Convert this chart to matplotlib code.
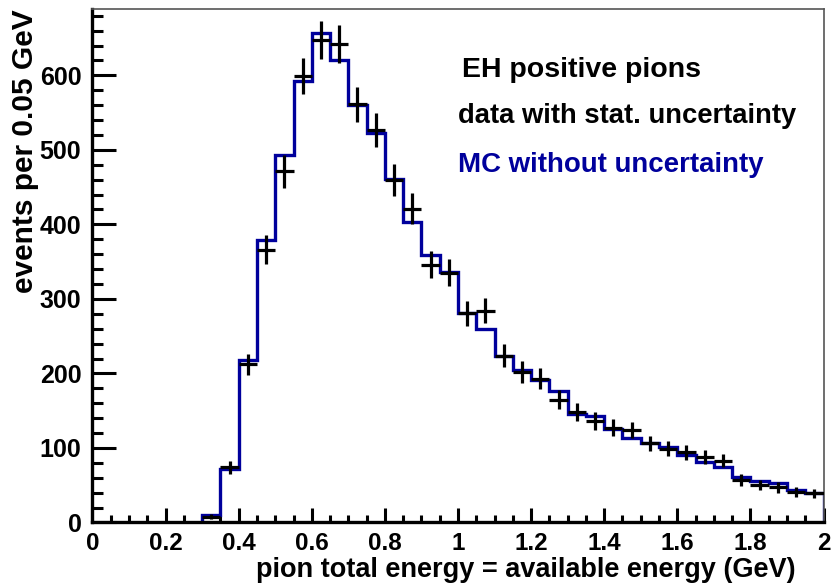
import numpy as np
import matplotlib
matplotlib.use("Agg")
import matplotlib.pyplot as plt
from matplotlib.ticker import MultipleLocator

plt.rcParams['font.family'] = ['Liberation Sans', 'DejaVu Sans']
plt.rcParams['font.weight'] = 'bold'

# bins of 0.05 GeV from 0.30 to 2.00
bin_edges = np.round(np.arange(0.30, 2.0001, 0.05), 3)
bin_centers = (bin_edges[:-1] + bin_edges[1:]) / 2

# data (events per bin)
data_counts = [8, 74, 212, 366, 471, 599, 648, 642, 561, 527,
               459, 421, 346, 335, 281, 284, 224, 202, 193, 165,
               148, 136, 127, 124, 106, 99, 94, 88, 83, 57,
               50, 47, 41, 39]

# MC prediction
mc_counts = [10, 72, 218, 379, 493, 593, 657, 620, 560, 523,
             461, 403, 359, 336, 281, 260, 223, 205, 191, 177,
             146, 143, 126, 114, 107, 101, 91, 81, 75, 61,
             56, 53, 44, 39]

mc_color = '#00009c'

fig = plt.figure(figsize=(8.31, 5.86), dpi=100)
ax = fig.add_axes([0.1113, 0.1084, 0.8797, 0.8762])

ax.stairs(mc_counts, bin_edges, baseline=0, color=mc_color, lw=2.4, zorder=2)

data_counts = np.array(data_counts)
ax.errorbar(bin_centers, data_counts, yerr=np.sqrt(data_counts), xerr=0.025,
            fmt='none', ecolor='black', elinewidth=2.3, capsize=0, zorder=3)

ax.set_xlim(0, 2)
ax.set_ylim(0, 689)

ax.xaxis.set_major_locator(MultipleLocator(0.2))
ax.xaxis.set_minor_locator(MultipleLocator(0.05))
ax.yaxis.set_major_locator(MultipleLocator(100))
ax.yaxis.set_minor_locator(MultipleLocator(20))
ax.xaxis.set_major_formatter(plt.FuncFormatter(lambda v, p: f'{v:g}'))

ax.tick_params(axis='x', which='major', direction='in', length=10, width=2.2,
               labelsize=17.5, pad=7, top=False)
ax.tick_params(axis='x', which='minor', direction='in', length=5, width=2.2, top=False)
ax.tick_params(axis='y', which='major', direction='in', length=17, width=2.2,
               labelsize=18, pad=8, right=False)
ax.tick_params(axis='y', which='minor', direction='in', length=8, width=2.2, right=False)

for s in ['left', 'bottom']:
    ax.spines[s].set_linewidth(2.4)
for s in ['top', 'right']:
    ax.spines[s].set_linewidth(1.2)
    ax.spines[s].set_color('#555555')

fig.text(796 / 831, 1 - 577 / 586, 'pion total energy = available energy (GeV)',
         fontsize=19.5, fontweight='bold', ha='right', va='baseline')
fig.text(11 / 831, 1 - 9 / 586, 'events per 0.05 GeV', rotation=90,
         fontsize=21.5, fontweight='bold', ha='left', va='top')

ax.text(0.505, 0.8676, 'EH positive pions', transform=ax.transAxes,
        fontsize=20.5, color='black', va='baseline', ha='left')
ax.text(0.500, 0.778, 'data with stat. uncertainty', transform=ax.transAxes,
        fontsize=19.7, color='black', va='baseline', ha='left')
ax.text(0.500, 0.6826, 'MC without uncertainty', transform=ax.transAxes,
        fontsize=19.9, color=mc_color, va='baseline', ha='left')

fig.savefig('out.png', dpi=100)
